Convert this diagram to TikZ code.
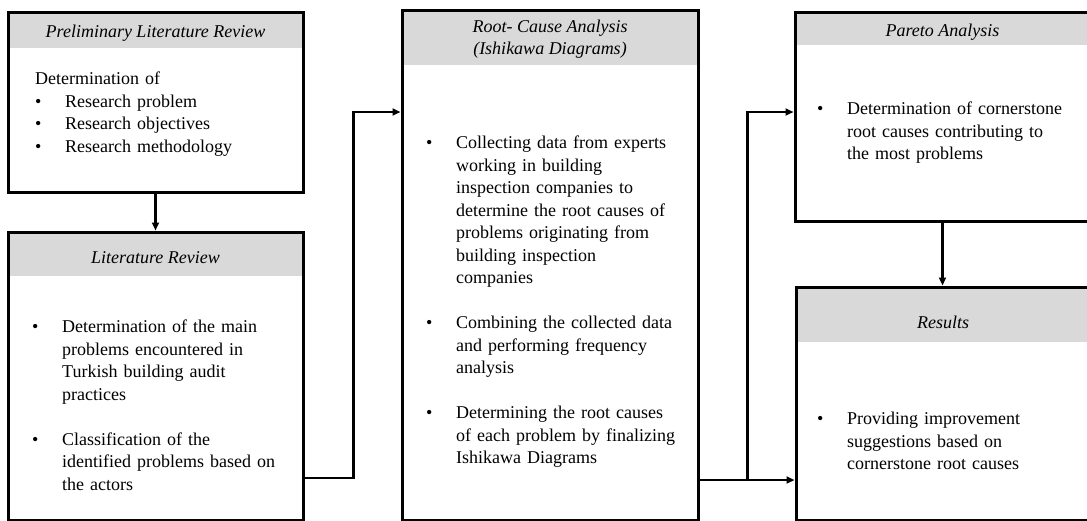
\documentclass[tikz,border=0pt]{standalone}
\usepackage{fontspec}
\setmainfont{Liberation Serif}
\usepackage{tikz}
\usetikzlibrary{
	arrows.meta,
	backgrounds,
	positioning
}
\definecolor{headgray}{gray}{0.85}
\setlength{\parindent}{0pt}
\newcommand{\bul}{\par\hangindent=30pt\hangafter=1\noindent\makebox[30pt][l]{\textbullet}}
\newcommand{\itemgap}{\par\vspace{22.5pt}}

\begin{document}
\begin{tikzpicture}[x=1pt, y=-1pt,
	stagebox/.style={draw, line width=3pt, anchor=north west, inner sep=0pt},
	headband/.style={fill=headgray, anchor=north west, inner sep=0pt},
	title/.style={font=\fontsize{18}{22.5}\selectfont\itshape, align=center, inner sep=0pt},
	body/.style={font=\fontsize{18}{22.5}\selectfont, text width=260pt, align=left, anchor=north west, inner sep=0pt},
	flow/.style={line width=2.4pt, -{Triangle[length=8pt,width=7pt]}}]
			\useasboundingbox (0,0) rectangle (1087,520);
			% boxes
			\node[stagebox, minimum width=295pt, minimum height=180pt] (pre) at (6.5,10.5) {};
			\node[stagebox, minimum width=295pt, minimum height=288pt] (lit) at (6.5,230.5) {};
			\node[stagebox, minimum width=296pt, minimum height=510pt] (rca) at (400.5,8.5) {};
			\node[stagebox, minimum width=295pt, minimum height=209pt] (par) at (793.5,10.5) {};
			\node[stagebox, minimum width=294pt, minimum height=233pt] (res) at (794.5,285.5) {};
			\begin{scope}[on background layer]
				\node[headband, minimum width=298pt, minimum height=37.5pt] at (pre.north west) {};
				\node[headband, minimum width=298pt, minimum height=45.5pt] at (lit.north west) {};
				\node[headband, minimum width=299pt, minimum height=56.5pt] at (rca.north west) {};
				\node[headband, minimum width=298pt, minimum height=34.5pt] at (par.north west) {};
				\node[headband, minimum width=297pt, minimum height=56.5pt] at (res.north west) {};
			\end{scope}
			% titles
			\node[title] (pretitle) at (pre.north |- 0,33) {Preliminary Literature Review};
			\node[title] (littitle) at (lit.north |- 0,258) {Literature Review};
			\node[title] (rcatitle) at (rca.north |- 0,39) {Root- Cause Analysis\\(Ishikawa Diagrams)};
			\node[title] (partitle) at (par.north |- 0,32) {Pareto Analysis};
			\node[title] (restitle) at (res.north |- 0,322) {Results};
			% contents
			\node[body] (pretext) at (35,72) {Determination of
				\bul Research problem
				\bul Research objectives
				\bul Research methodology\par};
			\node[body] (littext) at (32,310) {\bul Determination of the main\newline problems encountered in\newline Turkish building audit\newline practices
				\itemgap\bul Classification of the\newline identified problems based on\newline the actors\par};
			\node[body] (rcatext) at (426,126) {\bul Collecting data from experts\newline working in building\newline inspection companies to\newline determine the root causes of\newline problems originating from\newline building inspection\newline companies
				\itemgap\bul Combining the collected data\newline and performing frequency\newline analysis
				\itemgap\bul Determining the root causes\newline of each problem by finalizing\newline Ishikawa Diagrams\par};
			\node[body] (partext) at (817,92) {\bul Determination of cornerstone\newline root causes contributing to\newline the most problems\par};
			\node[body] (restext) at (817,402) {\bul Providing improvement\newline suggestions based on\newline cornerstone root causes\par};
			% connectors
			\draw[flow] (pre.south) -- (pre.south |- lit.north);
			\draw[flow] (lit.east |- 0,478) -- ++(49,0) |- (rca.west |- 0,112);
			\draw[flow] (rca.east |- 0,480) -- (res.west |- 0,480);
			\draw[flow] (rca.east |- 0,480) -- ++(48,0) |- (par.west |- 0,112);
			\draw[flow] (par.south) -- (par.south |- res.north);
		\end{tikzpicture}
\end{document}
